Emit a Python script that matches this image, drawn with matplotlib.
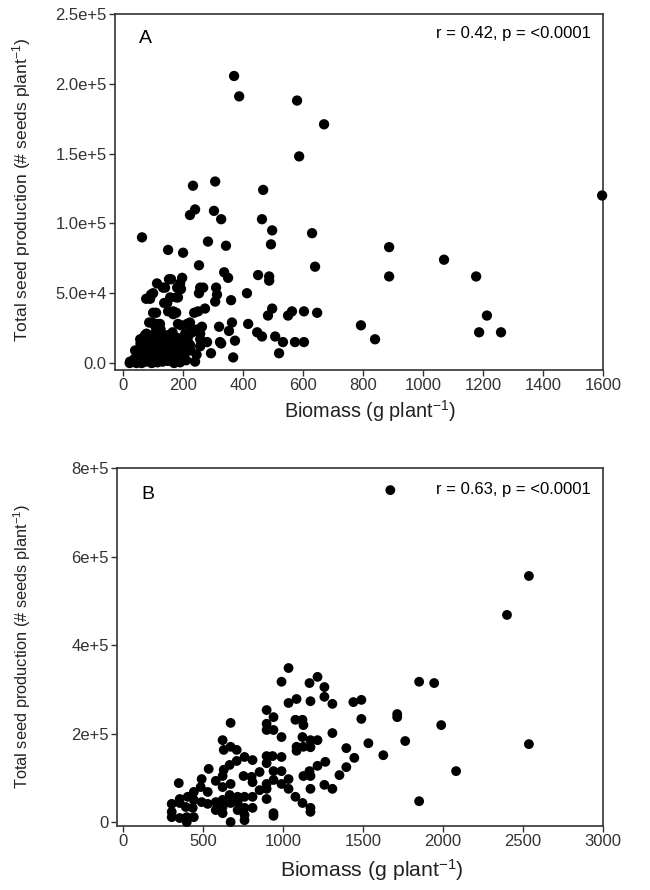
import numpy as np
import matplotlib
matplotlib.use('Agg')
import matplotlib.pyplot as plt

plt.rcParams['font.family'] = ['Liberation Sans', 'DejaVu Sans']
plt.rcParams['mathtext.fontset'] = 'custom'
plt.rcParams['mathtext.rm'] = 'Liberation Sans'
plt.rcParams['mathtext.it'] = 'Liberation Sans:italic'
plt.rcParams['mathtext.default'] = 'rm'

# Panel A: biomass (g plant-1) vs total seed production
biomass_a = [370, 387, 580, 670, 587, 233, 307, 467, 1597, 223, 240, 303, 327, 463,
             497, 630, 63, 283, 343, 887, 493, 150, 200, 1070, 253, 640, 337, 350,
             450, 487, 487, 887, 1177, 153, 160, 113, 197, 190, 133, 180, 257, 267,
             310, 253, 313, 413, 93, 77, 157, 177, 137, 307, 360, 273, 150, 167,
             100, 237, 497, 483, 563, 550, 603, 647, 1213, 87, 113, 183, 213, 363,
             417, 793, 320, 263, 247, 353, 447, 1187, 1260, 463, 507, 207, 223, 73,
             257, 840, 323, 373, 533, 573, 603, 280, 257, 223, 327, 293, 520, 367,
             240, 197, 167, 150, 107, 57, 100, 90, 140, 193, 183, 147, 167, 177,
             110, 250, 193, 97, 123, 223, 67, 113, 160, 233, 257, 47, 23, 117,
             22, 30, 38, 45, 50, 55, 60, 62, 68, 72, 75, 80, 85, 88, 92, 95, 98,
             102, 105, 110, 112, 118, 120, 125, 128, 132, 135, 140, 145, 150, 155,
             160, 165, 170, 175, 180, 185, 190, 198, 205, 210, 215, 225, 230, 245,
             40, 58, 78, 108, 135, 42, 65, 115, 150, 190, 100, 130, 165, 180, 205, 60]
seeds_a = [205600, 191000, 188000, 171000, 148000, 127000, 130000, 124000, 120000,
           106000, 110000, 109000, 103000, 103000, 95000, 93000, 90000, 87000, 84000,
           83000, 85000, 81000, 79000, 74000, 70000, 69000, 65000, 61000, 63000, 62000,
           59000, 62000, 62000, 60000, 60000, 57000, 61000, 57000, 54000, 54000, 54000,
           54000, 54000, 50000, 49000, 50000, 49000, 46000, 47000, 47000, 43000, 44000,
           45000, 39000, 37000, 35000, 36000, 36000, 39000, 34000, 37000, 34000, 37000,
           36000, 34000, 29000, 28000, 28000, 28000, 29000, 28000, 27000, 26000, 26000,
           24000, 23000, 22000, 22000, 22000, 19000, 19000, 21000, 21000, 20000, 17000,
           17000, 15000, 16000, 15000, 15000, 15000, 15000, 12000, 13000, 14000, 7000,
           7000, 4000, 1000, 6000, 2000, 14000, 14000, 17000, 50000, 46000, 54000,
           53000, 47000, 43000, 37000, 36000, 36000, 37000, 27000, 29000, 28000, 29000,
           18000, 19000, 17000, 24000, 21000, 9000, 1000, 11000,
           0, 1000, 3000, 0, 5000, 2000, 8000, 0, 12000, 4000, 1000, 7000, 15000, 3000,
           10000, 0, 20000, 6000, 13000, 2000, 9000, 17000, 4000, 24000, 11000, 1000,
           7000, 15000, 3000, 20000, 10000, 5000, 13000, 0, 8000, 18000, 3000, 11000,
           15000, 7000, 2000, 17000, 9000, 22000, 6000,
           9000, 14000, 21000, 26000, 19000, 500, 6000, 500, 1500, 500, 500, 4500,
           22000, 10000, 12000, 3000]

# Panel B
biomass_b = [1671, 2537, 2400, 1035, 991, 1216, 1166, 1259, 1259, 1851, 1945, 1085,
             1035, 1172, 1309, 1440, 1490, 898, 941, 1714, 1714, 1490, 1078, 1122,
             1128, 673, 898, 898, 941, 1989, 1309, 991, 1122, 1172, 1216, 1085, 1128,
             1172, 623, 1534, 1764, 2537, 630, 673, 711, 1396, 1085, 1627, 898, 935,
             991, 760, 711, 810, 1446, 667, 1265, 1216, 1396, 898, 854, 941, 991,
             1166, 630, 623, 536, 2082, 1353, 1128, 1172, 754, 804, 810, 1035, 941,
             492, 486, 580, 349, 673, 623, 898, 854, 898, 991, 1035, 1172, 1259, 1309,
             530, 443, 405, 355, 717, 760, 810, 667, 623, 1078, 1122, 1172, 1172, 898,
             1851, 305, 355, 393, 443, 492, 436, 530, 580, 580, 623, 623, 673, 717,
             717, 760, 760, 810, 305, 305, 355, 399, 443, 399, 673, 760, 941, 941]
seeds_b = [750000, 556000, 468000, 348000, 317000, 328000, 314000, 305000, 283000,
           317000, 314000, 278000, 269000, 273000, 267000, 271000, 276000, 253000,
           237000, 244000, 237000, 233000, 231000, 231000, 219000, 224000, 222000,
           208000, 208000, 219000, 201000, 192000, 192000, 185000, 185000, 170000,
           170000, 169000, 185000, 178000, 183000, 176000, 163000, 170000, 163000,
           167000, 161000, 151000, 149000, 149000, 147000, 147000, 138000, 140000,
           145000, 129000, 136000, 127000, 124000, 133000, 113000, 115000, 115000,
           115000, 118000, 104000, 120000, 115000, 106000, 104000, 104000, 104000,
           102000, 90000, 97000, 95000, 97000, 79000, 93000, 88000, 86000, 79000,
           86000, 72000, 75000, 86000, 75000, 75000, 84000, 75000, 68000, 68000,
           57000, 52000, 57000, 57000, 57000, 61000, 50000, 57000, 43000, 32000,
           23000, 52000, 47000, 41000, 43000, 34000, 50000, 45000, 32000, 41000,
           45000, 27000, 34000, 20000, 43000, 45000, 27000, 32000, 16000, 32000,
           23000, 11000, 9000, 11000, 11000, 0, 0, 4000, 20000, 14000]

yticks_a = [0, 5e4, 1e5, 1.5e5, 2e5, 2.5e5]
ylabels_a = ['0.0', '5.0e+4', '1.0e+5', '1.5e+5', '2.0e+5', '2.5e+5']
xticks_a = [0, 200, 400, 600, 800, 1000, 1200, 1400, 1600]
yticks_b = [0, 2e5, 4e5, 6e5, 8e5]
ylabels_b = ['0', '2e+5', '4e+5', '6e+5', '8e+5']
xticks_b = [0, 500, 1000, 1500, 2000, 2500, 3000]

W, H = 650, 890
fig = plt.figure(figsize=(6.5, 8.9), dpi=100)
ax_a = fig.add_axes([115/W, 1-370/H, (603-115)/W, (370-14)/H])
ax_b = fig.add_axes([117/W, 1-826/H, (603-117)/W, (826-468)/H])

ylab = 'Total seed production (# seeds plant$^{-1}$)'
xlab = 'Biomass (g plant$^{-1}$)'

def style(ax, xt, yt, ylabs, xsize, ysize, ymid, xmid, xlab_y):
    for s in ax.spines.values():
        s.set_linewidth(1.2)
        s.set_color('#333333')
    ax.set_xticks(xt)
    ax.set_yticks(yt)
    ax.set_yticklabels(ylabs)
    ax.tick_params(direction='out', length=4, width=1, colors='#333333',
                   labelsize=12, pad=2, top=False, right=False)
    ax.set_xlabel(xlab, fontsize=xsize, color='#222222')
    pos = ax.get_position()
    ax.xaxis.set_label_coords((xmid - pos.x0 * W) / (pos.width * W),
                              ((1 - pos.y0) * H - xlab_y) / (pos.height * H))
    fig.text(22/W, 1-ymid/H, ylab, rotation=90, ha='center', va='center',
             fontsize=ysize, color='#222222')

ax_a.scatter(biomass_a, seeds_a, s=55, c='black', edgecolors='none', clip_on=False, zorder=3)
ax_a.set_xlim(-27, 1600)
ax_a.set_ylim(-5000, 2.5e5)
style(ax_a, xticks_a, yticks_a, ylabels_a, 14.3, 12.6, 190, 370, 398)
ax_a.text(0.05, 0.93, 'A', transform=ax_a.transAxes, fontsize=14, va='center')
ax_a.text(0.975, 0.945, 'r = 0.42, p = <0.0001', transform=ax_a.transAxes,
          fontsize=12, ha='right', va='center')

ax_b.scatter(biomass_b, seeds_b, s=50, c='black', edgecolors='none', clip_on=False, zorder=3)
ax_b.set_xlim(-37, 3000)
ax_b.set_ylim(-9000, 8e5)
style(ax_b, xticks_b, yticks_b, ylabels_b, 15.3, 11.8, 646, 372, 857)
ax_b.text(0.05, 0.925, 'B', transform=ax_b.transAxes, fontsize=14, va='center')
ax_b.text(0.975, 0.94, 'r = 0.63, p = <0.0001', transform=ax_b.transAxes,
          fontsize=12, ha='right', va='center')

fig.savefig('out.png', dpi=100)
